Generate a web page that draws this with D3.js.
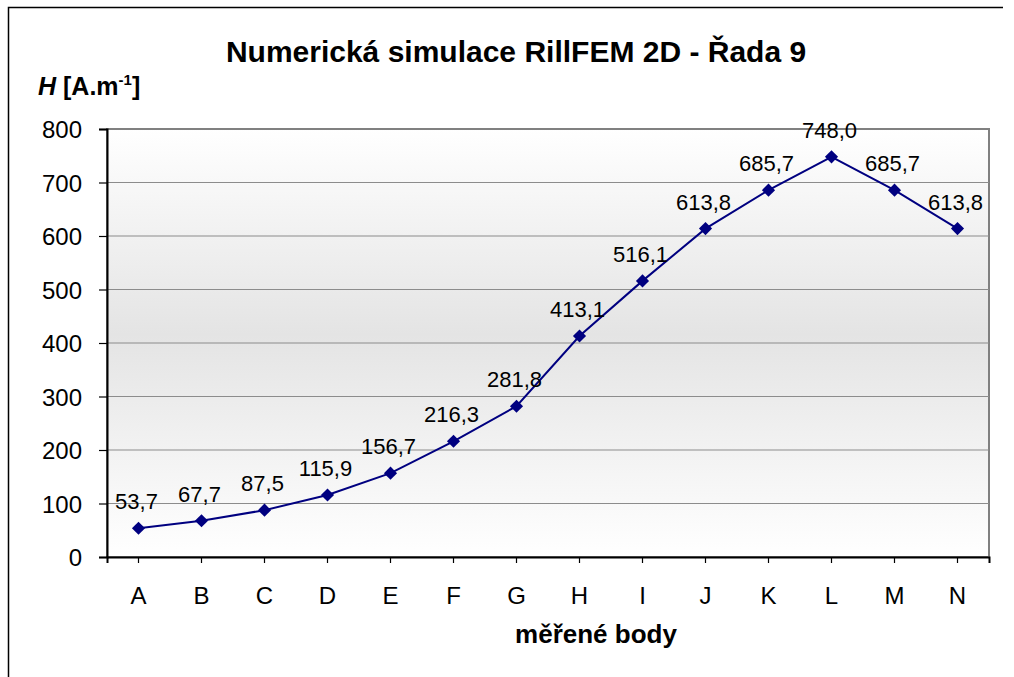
<!DOCTYPE html>
<html>
<head>
<meta charset="utf-8">
<script src="https://cdn.jsdelivr.net/npm/d3@7"></script>
<style>
  body { margin: 0; background: #fff; }
  svg text { font-family: "Liberation Sans", Arial, sans-serif; fill: #000; }
</style>
</head>
<body>
<div id="chart"></div>
<script>
// data
var categories = ["A", "B", "C", "D", "E", "F", "G", "H", "I", "J", "K", "L", "M", "N"];
var values = [53.7, 67.7, 87.5, 115.9, 156.7, 216.3, 281.8, 413.1, 516.1, 613.8, 685.7, 748.0, 685.7, 613.8];
var yTicks = [0, 100, 200, 300, 400, 500, 600, 700, 800];

var W = 1014, H = 677;
var margin = {top: 129, right: 25, bottom: 120, left: 107};
var width = 989 - margin.left;
var height = 557 - margin.top;

var svg = d3.select("#chart").append("svg")
    .attr("width", W)
    .attr("height", H);

// cadre exterieur
svg.append("path")
    .attr("d", "M8.5,680 L8.5,7.5 L1003,7.5")
    .attr("fill", "none")
    .attr("stroke", "#000")
    .attr("stroke-width", 1.5);

var defs = svg.append("defs");
var grad = defs.append("linearGradient")
    .attr("id", "bg").attr("x1", 0).attr("y1", 0).attr("x2", 0).attr("y2", 1);
grad.append("stop").attr("offset", "0%").attr("stop-color", "#ffffff");
grad.append("stop").attr("offset", "48%").attr("stop-color", "#e4e4e4");
grad.append("stop").attr("offset", "100%").attr("stop-color", "#ffffff");

var g = svg.append("g")
    .attr("transform", "translate(" + margin.left + "," + margin.top + ")");

var x = d3.scaleBand().domain(categories).range([0, width]);
var y = d3.scaleLinear().domain([0, 800]).range([height, 0]);

g.append("rect")
    .attr("width", width).attr("height", height)
    .attr("fill", "url(#bg)")
    .attr("stroke", "#808080").attr("stroke-width", 2);

// gridlines
g.selectAll(".grid").data(yTicks.slice(1, -1)).enter().append("line")
    .attr("x1", 0).attr("x2", width)
    .attr("y1", d => y(d)).attr("y2", d => y(d))
    .attr("stroke", "#8c8c8c").attr("stroke-width", 1.2);

// y axis
var yAxis = g.append("g")
    .call(d3.axisLeft(y).tickValues(yTicks).tickSize(8).tickPadding(17).tickFormat(d3.format("d")));
yAxis.select(".domain").attr("stroke", "#000").attr("stroke-width", 2);
yAxis.selectAll(".tick line").attr("stroke", "#000").attr("stroke-width", 1.2);
yAxis.selectAll("text").style("font-size", "24px").attr("dy", "0.36em");

// x axis
var xAxis = g.append("g")
    .attr("transform", "translate(0," + height + ")")
    .call(d3.axisBottom(x).tickSize(6).tickPadding(24).tickSizeOuter(6));
xAxis.select(".domain").attr("stroke", "#000").attr("stroke-width", 2);
xAxis.selectAll(".tick line").attr("stroke", "#000").attr("stroke-width", 1.2);
xAxis.selectAll("text").style("font-size", "24px");

// line
var line = d3.line()
    .x((d, i) => x(categories[i]) + x.bandwidth() / 2)
    .y(d => y(d));

g.append("path")
    .datum(values)
    .attr("d", line)
    .attr("fill", "none")
    .attr("stroke", "#000080")
    .attr("stroke-width", 2);

g.selectAll(".pt").data(values).enter().append("path")
    .attr("transform", (d, i) => "translate(" + (x(categories[i]) + x.bandwidth() / 2) + "," + y(d) + ")")
    .attr("d", d3.symbol().type(d3.symbolDiamond2).size(110))
    .attr("fill", "#000080");

g.selectAll(".lbl").data(values).enter().append("text")
    .attr("x", (d, i) => x(categories[i]) + x.bandwidth() / 2 - 2)
    .attr("y", d => y(d) - 19)
    .attr("text-anchor", "middle")
    .style("font-size", "22px")
    .text(d => d.toFixed(1).replace(".", ","));

// titles
svg.append("text")
    .attr("x", 516).attr("y", 62)
    .attr("text-anchor", "middle")
    .style("font-size", "30px").style("font-weight", "bold")
    .text("Numerická simulace RillFEM 2D - Řada 9");

var yl = svg.append("text")
    .attr("x", 38).attr("y", 95)
    .style("font-size", "25px").style("font-weight", "bold");
yl.append("tspan").style("font-style", "italic").text("H");
yl.append("tspan").text(" [A.m");
yl.append("tspan").attr("dy", -10).style("font-size", "15px").text("-1");
yl.append("tspan").attr("dy", 10).text("]");

svg.append("text")
    .attr("x", 596).attr("y", 643)
    .attr("text-anchor", "middle")
    .style("font-size", "26px").style("font-weight", "bold")
    .text("měřené body");
</script>
</body>
</html>
